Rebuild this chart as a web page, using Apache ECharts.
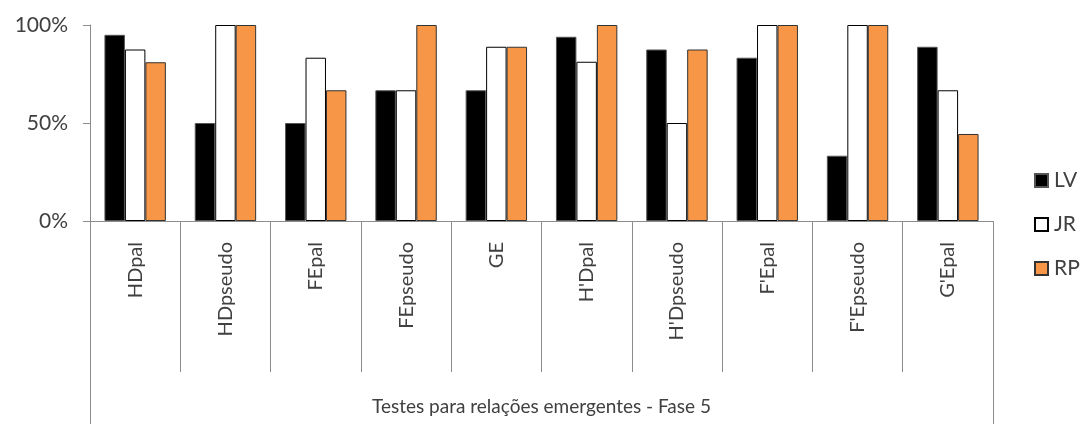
<!DOCTYPE html>
<html>
<head>
<meta charset="utf-8">
<script src="https://cdn.jsdelivr.net/npm/echarts@6/dist/echarts.min.js"></script>
<style>
  html, body { margin: 0; padding: 0; background: #fff; }
  #grafico { width: 1083px; height: 424px; }
</style>
</head>
<body>
<div id="grafico"></div>
<script>
// categorias e valores (fração de acerto)
const categorias = ['HDpal', 'HDpseudo', 'FEpal', 'FEpseudo', 'GE', "H'Dpal", "H'Dpseudo", "F'Epal", "F'Epseudo", "G'Epal"]
const tituloEixo = ['Testes para relações emergentes - Fase 5']
const valoresLV = [0.95, 0.5, 0.5, 0.667, 0.667, 0.94, 0.875, 0.833, 0.333, 0.889]
const valoresJR = [0.875, 1, 0.833, 0.667, 0.889, 0.8125, 0.5, 1, 1, 0.667]
const valoresRP = [0.81, 1, 0.667, 1, 0.889, 1, 0.875, 1, 1, 0.444]
const ticksY = [0, 0.5, 1]

const fonte = 'Lato, "Open Sans", sans-serif'
const corTexto = '#404040'
const corEixo = '#8c8c8c'

let myChart = echarts.init(document.getElementById('grafico'))

let option = {
  animation: false,
  textStyle: { fontFamily: fonte },
  grid: {
    left: 90,
    right: 90,
    top: 25,
    bottom: 203
  },
  legend: {
    orient: 'vertical',
    left: 1029,
    top: 165,
    icon: 'rect',
    itemWidth: 13,
    itemHeight: 13,
    itemGap: 23,
    textStyle: { fontSize: 21, color: corTexto, fontFamily: fonte, padding: [0, 0, 0, 1] },
    data: ['LV', 'JR', 'RP']
  },
  xAxis: [
    {
      type: 'category',
      data: categorias,
      axisLine: { lineStyle: { color: corEixo, width: 1 } },
      axisTick: { show: true, length: 151, lineStyle: { color: corEixo } },
      axisLabel: {
        rotate: 90,
        margin: 21,
        fontSize: 20,
        color: corTexto,
        fontFamily: fonte,
        interval: 0
      }
    },
    {
      type: 'category',
      position: 'bottom',
      data: tituloEixo,
      axisLine: { show: false },
      axisTick: { show: true, length: 203, lineStyle: { color: corEixo } },
      axisLabel: {
        margin: 176,
        fontSize: 19,
        color: corTexto,
        fontFamily: fonte
      }
    }
  ],
  yAxis: {
    type: 'value',
    min: ticksY[0],
    max: ticksY[ticksY.length - 1],
    interval: 0.5,
    splitLine: { show: false },
    axisLine: { show: true, lineStyle: { color: corEixo } },
    axisTick: { show: true, length: 7, lineStyle: { color: corEixo } },
    axisLabel: {
      margin: 22,
      fontSize: 21,
      color: corTexto,
      fontFamily: fonte,
      formatter: v => Math.round(v * 100) + '%'
    }
  },
  series: [
    {
      name: 'LV',
      type: 'bar',
      data: valoresLV,
      barGap: '0%',
      barCategoryGap: '32%',
      itemStyle: { color: '#000000', borderColor: '#555555', borderWidth: 1 }
    },
    {
      name: 'JR',
      type: 'bar',
      data: valoresJR,
      barGap: '0%',
      barCategoryGap: '32%',
      itemStyle: { color: '#ffffff', borderColor: '#000000', borderWidth: 1 }
    },
    {
      name: 'RP',
      type: 'bar',
      data: valoresRP,
      barGap: '0%',
      barCategoryGap: '32%',
      itemStyle: { color: '#F79646', borderColor: '#333333', borderWidth: 1 }
    }
  ]
}

myChart.setOption(option)
</script>
</body>
</html>
